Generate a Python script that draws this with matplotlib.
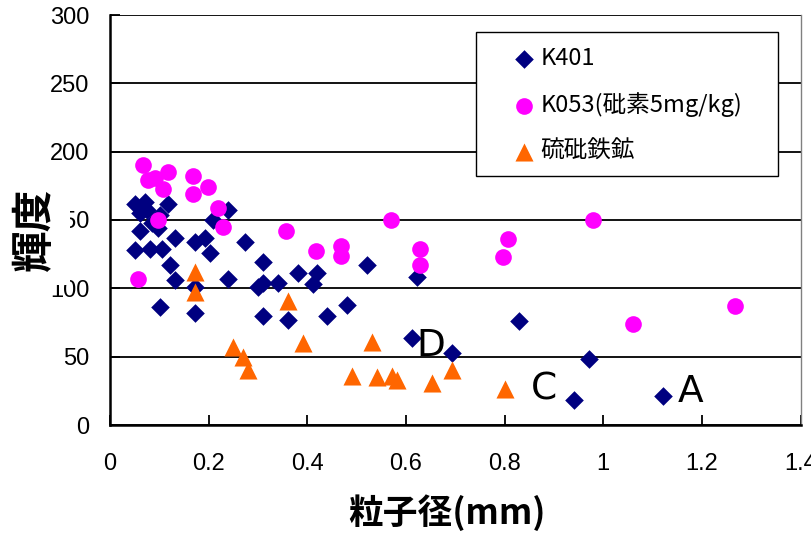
import matplotlib
matplotlib.use("Agg")
import matplotlib.pyplot as plt
from matplotlib.patches import Rectangle

# Particle size (mm) vs. brightness
k401_x = [0.051, 0.071, 0.061, 0.075, 0.118, 0.101, 0.085, 0.097, 0.061, 0.132,
          0.172, 0.193, 0.203, 0.051, 0.081, 0.105, 0.122, 0.132, 0.172, 0.239,
          0.101, 0.172, 0.239, 0.209, 0.274, 0.310, 0.300, 0.310, 0.341, 0.381,
          0.420, 0.412, 0.521, 0.310, 0.361, 0.440, 0.480, 0.622, 0.612, 0.693,
          0.829, 0.971, 0.941, 1.121]
k401_y = [162, 163, 155, 157, 162, 154, 148, 144, 142, 137,
          134, 137, 126, 128, 129, 129, 117, 106, 101, 107,
          86, 82, 157, 150, 134, 119, 101, 104, 104, 111,
          111, 103, 117, 80, 77, 80, 88, 108, 64, 53,
          76, 48, 18, 21]

k053_x = [0.067, 0.077, 0.091, 0.118, 0.107, 0.168, 0.199, 0.168, 0.219, 0.229,
          0.097, 0.057, 0.357, 0.418, 0.468, 0.468, 0.570, 0.628, 0.628, 0.807,
          0.797, 0.979, 1.060, 1.267]
k053_y = [190, 179, 181, 185, 173, 182, 174, 169, 159, 145,
          150, 107, 142, 127, 131, 124, 150, 129, 117, 136,
          123, 150, 74, 87]

arsenopyrite_x = [0.172, 0.172, 0.361, 0.249, 0.270, 0.280, 0.391, 0.531, 0.491,
                  0.541, 0.572, 0.582, 0.653, 0.693, 0.801]
arsenopyrite_y = [112, 97, 91, 57, 50, 40, 60, 61, 36,
                  35, 36, 33, 31, 40, 26]

series_labels = ["K401", "K053(砒素5mg/kg)", "硫砒鉄鉱"]

point_labels = ["D", "C", "A"]
point_label_x = [0.651, 0.880, 1.177]
point_label_y = [50.4, 19.0, 17.0]

x_ticks = [0, 0.2, 0.4, 0.6, 0.8, 1.0, 1.2, 1.4]
x_tick_labels = ["0", "0.2", "0.4", "0.6", "0.8", "1", "1.2", "1.4"]
y_ticks = [0, 50, 100, 150, 200, 250, 300]

CJK = ["Noto Sans CJK JP", "DejaVu Sans"]

fig = plt.figure(figsize=(8.11, 5.34), dpi=100)
ax = fig.add_axes([110 / 811, 1 - 425 / 534, 690.5 / 811, 410 / 534])

ax.set_xlim(0, 1.4)
ax.set_ylim(0, 300)

ax.yaxis.grid(True, color="black", linewidth=1.3)
ax.set_axisbelow(True)

ax.scatter(k401_x, k401_y, marker="D", s=90, color="#000080",
           linewidths=0, zorder=3, label=series_labels[0])
ax.scatter(k053_x, k053_y, marker="o", s=12 ** 2, color="#FF00FF",
           linewidths=0, zorder=3, label=series_labels[1])
ax.scatter(arsenopyrite_x, arsenopyrite_y, marker="^", s=13 ** 2, color="#FF6600",
           linewidths=0, zorder=3, label=series_labels[2])

for t, tx, ty in zip(point_labels, point_label_x, point_label_y):
    ax.text(tx, ty, t, ha="center", va="baseline", fontsize=27,
            family="DejaVu Sans", color="black", zorder=4)

ax.set_xticks(x_ticks)
ax.set_xticklabels(x_tick_labels)
ax.set_yticks(y_ticks)
ax.tick_params(axis="x", direction="in", length=7, width=1.3, pad=20,
               labelsize=17, colors="black")
ax.tick_params(axis="y", direction="in", length=7, width=1.3, pad=15,
               labelsize=17, colors="black")
for lab in ax.get_xticklabels() + ax.get_yticklabels():
    lab.set_fontfamily("Liberation Sans")

for side in ("left", "bottom"):
    ax.spines[side].set_linewidth(1.8)
    ax.spines[side].set_color("black")
ax.spines["top"].set_visible(False)
ax.spines["right"].set_color("#808080")
ax.spines["right"].set_linewidth(1.0)

# legend frame
ax.add_patch(Rectangle((0.5304, 0.608), 0.4363, 0.3505, transform=ax.transAxes,
                       facecolor="white", edgecolor="black", linewidth=1.0,
                       zorder=5, clip_on=False))
leg = ax.legend(loc="upper left", bbox_to_anchor=(0.5826, 0.922), frameon=False,
                borderpad=0, borderaxespad=0, handlelength=0.95,
                handletextpad=0.25, labelspacing=0.95,
                prop={"family": CJK, "size": 17})
leg.set_zorder(6)

# axis titles
fig.add_artist(Rectangle((0, 1 - 285 / 534), 70 / 811, 113 / 534,
                         transform=fig.transFigure, facecolor="white",
                         edgecolor="none", zorder=2.5))
fig.text(35 / 811, 1 - 229 / 534, "輝度", rotation=90, ha="center", va="center",
         fontsize=30, fontweight="bold", family=CJK, zorder=3)
fig.text(447 / 811, 1 - 513 / 534, "粒子径(mm)", ha="center", va="center",
         fontsize=25, fontweight="bold", family=CJK, zorder=3)

fig.savefig("out.png", dpi=100)
